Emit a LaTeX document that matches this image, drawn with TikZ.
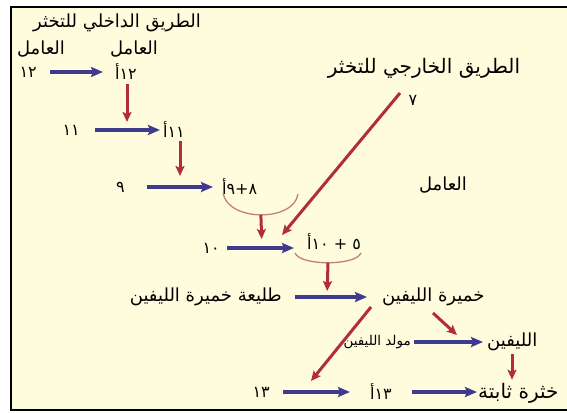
\documentclass[tikz,border=0pt]{standalone}
\usepackage{fontspec}
\newfontfamily\arabicfont[Script=Arabic]{DejaVu Sans}
\TeXXeTstate=1
\usetikzlibrary{arrows.meta, positioning}
\definecolor{cascadeblue}{RGB}{62, 58, 142}
\definecolor{cascadered}{RGB}{176, 44, 62}
\definecolor{cascadearc}{RGB}{196, 128, 116}
\definecolor{cream}{RGB}{255, 252, 221}
\newcommand{\ar}[1]{{\arabicfont\beginR #1\endR}}

\begin{document}
\begin{tikzpicture}[x=1pt, y=-1pt,
    every node/.style={inner sep=0pt, font=\fontsize{18}{20}\selectfont\arabicfont},
    num/.style={font=\fontsize{16}{18}\selectfont\arabicfont},
    small/.style={font=\fontsize{13.5}{16}\selectfont\arabicfont},
    big/.style={font=\fontsize{20}{22}\selectfont\arabicfont},
    bluearr/.style={-{Stealth[length=12pt, width=10pt, inset=2pt]}, cascadeblue, line width=3.2pt},
    redarr/.style={-{Stealth[length=10pt, width=9pt, inset=2pt]}, cascadered, line width=3pt},
    arcline/.style={cascadearc, line width=1.3pt}]
    \clip (0,0) rectangle (567,412);
    \draw[fill=cream, line width=2pt] (11,7) rectangle (600,410);

    % Nodes
    \node (intr) at (117,23) {\ar{الطريق الداخلي للتخثر}};
    \node (lab12) at (41,49) {\ar{العامل}};
    \node[num, anchor=east] (f12) at (37,72) {\ar{١٢}};
    \node (lab12a) at (134,49) {\ar{العامل}};
    \node[num, anchor=west] (f12a) at (115,72) {\ar{١٢أ}};
    \node[num, anchor=east] (f11) at (80,130) {\ar{١١}};
    \node[num, anchor=west] (f11a) at (163,130) {\ar{١١أ}};
    \node[num, anchor=east] (f9) at (125,187) {\ar{٩}};
    \node[num, anchor=west] (f89) at (222,187) {\ar{٨+٩أ}};
    \node[num, anchor=east] (f10) at (220,248) {\ar{١٠}};
    \node[num, anchor=west] (f510) at (307,242) {\ar{٥ + ١٠أ}};
    \node[big] (extr) at (424,68) {\ar{الطريق الخارجي للتخثر}};
    \node[num] (f7) at (413,100) {\ar{٧}};
    \node (lab7) at (443,185) {\ar{العامل}};
    \node[anchor=east] (proth) at (282,297) {\ar{طليعة خميرة الليفين}};
    \node[anchor=west] (thr) at (382,297) {\ar{خميرة الليفين}};
    \node[small, anchor=east] (fgn) at (411,342) {\ar{مولد الليفين}};
    \node[anchor=west] (fib) at (487,342) {\ar{الليفين}};
    \node[num, anchor=east] (f13) at (270,392) {\ar{١٣}};
    \node[num, anchor=west] (f13a) at (370,392) {\ar{١٣أ}};
    \node[big, anchor=west] (clot) at (478,393) {\ar{خثرة ثابتة}};

    % Joints on the arrows
    \coordinate (j11) at (127,130);
    \coordinate (j9) at (180,187);
    \coordinate (j10) at (262,248);
    \coordinate (jpro) at (327,297);
    \coordinate (j7) at (400,93);
    \coordinate (j510) at (282,235);
    \coordinate (jthr) at (371,307);
    \coordinate (j13) at (311,381);
    \coordinate (jthrb) at (433,313);
    \coordinate (jfib) at (457,335);

    % Arcs
    \draw[arcline] (223,193) .. controls (228,222) and (294,222) .. (298,194) coordinate[pos=0.5] (arc89);
    \draw[arcline] (295,253) .. controls (300,266) and (356,266) .. (361,253) coordinate[pos=0.5] (arc510);

    % Arrows
    \draw[bluearr, shorten <=13pt, shorten >=12pt] (f12.east) -- (f12.east -| f12a.west);
    \draw[bluearr, shorten <=15pt, shorten >=3pt] (f11.east) -- (f11.east -| f11a.west);
    \draw[bluearr, shorten <=22pt, shorten >=9pt] (f9.east) -- (f9.east -| f89.west);
    \draw[bluearr, shorten <=7pt, shorten >=13pt] (f10.east) -- (f10.east -| f510.west);
    \draw[bluearr, shorten <=13pt, shorten >=15pt] (proth.east) -- (proth.east -| thr.west);
    \draw[bluearr, shorten <=3pt, shorten >=4pt] (fgn.east) -- (fgn.east -| fib.west);
    \draw[bluearr, shorten <=13pt, shorten >=20pt] (f13.east) -- (f13.east -| f13a.west);
    \draw[bluearr, shorten <=20pt, shorten >=1pt] (f13a.east) -- (f13a.east -| clot.west);

    \draw[redarr, shorten <=4pt, shorten >=8pt] (f12a.south -| j11) -- (j11);
    \draw[redarr, shorten <=3pt, shorten >=11pt] (f11a.south -| j9) -- (j9);
    \draw[redarr, shorten >=9pt] (arc89) -- (j10);
    \draw[redarr] (j7) -- (j510);
    \draw[redarr, shorten >=6pt] (arc510) -- (jpro);
    \draw[redarr] (jthr) -- (j13);
    \draw[redarr] (jthrb) -- (jfib);
    \draw[redarr, shorten <=3pt, shorten >=3pt] (fib.south -| 512,0) -- (clot.north -| 512,0);
\end{tikzpicture}
\end{document}
